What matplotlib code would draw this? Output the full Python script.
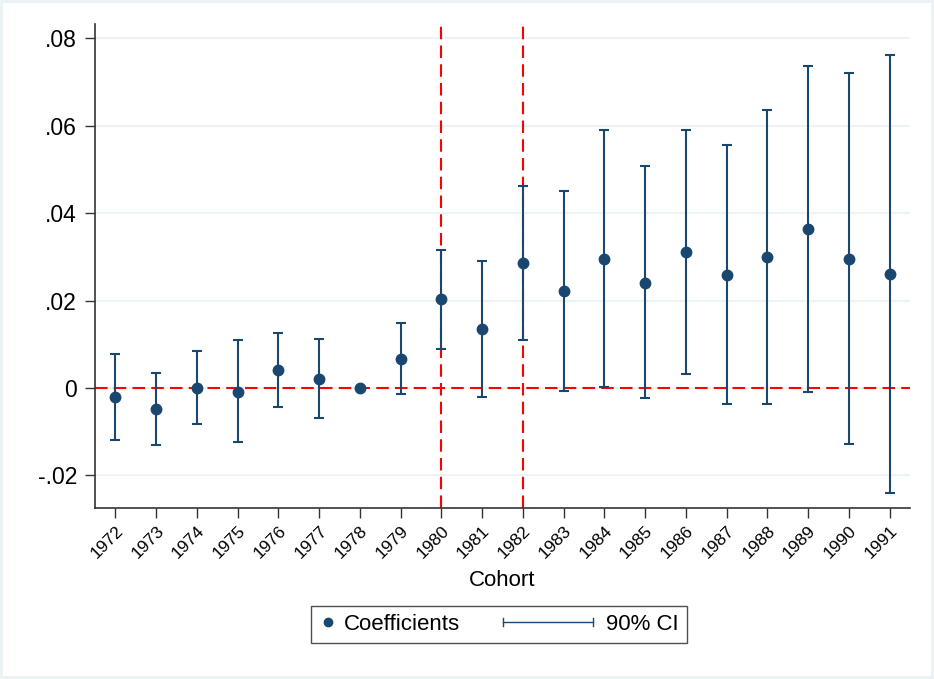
import numpy as np
import matplotlib
matplotlib.use('Agg')
import matplotlib.pyplot as plt
from matplotlib.lines import Line2D
from matplotlib.legend_handler import HandlerBase

plt.rcParams['font.family'] = ['Liberation Sans', 'DejaVu Sans']

# Data
cohorts = np.arange(1972, 1992)
coef = [-0.0021, -0.0048, 0.0000, -0.0009, 0.0040, 0.0021, 0.0000, 0.0067, 0.0203, 0.0134,
        0.0286, 0.0222, 0.0296, 0.0241, 0.0310, 0.0258, 0.0300, 0.0363, 0.0296, 0.0260]
ci_low = [-0.0120, -0.0131, -0.0083, -0.0125, -0.0044, -0.0069, np.nan, -0.0015, 0.0090, -0.0022,
          0.0109, -0.0007, 0.0002, -0.0024, 0.0031, -0.0038, -0.0036, -0.0009, -0.0129, -0.0241]
ci_high = [0.0077, 0.0035, 0.0084, 0.0109, 0.0125, 0.0112, np.nan, 0.0149, 0.0316, 0.0290,
           0.0462, 0.0451, 0.0591, 0.0507, 0.0591, 0.0556, 0.0636, 0.0736, 0.0721, 0.0761]
yticks = [-0.02, 0, 0.02, 0.04, 0.06, 0.08]
ytick_labels = ['-.02', '0', '.02', '.04', '.06', '.08']
vlines = [1980, 1982]

NAVY = '#1a476f'
GRID = '#eaf2f3'


class HandlerCI(HandlerBase):
    """Horizontal range bar with caps, as in the Stata legend."""
    def create_artists(self, legend, orig_handle, xdescent, ydescent,
                       width, height, fontsize, trans):
        y = height / 2 - ydescent
        x0, x1 = -57, width - 5
        cap = 3.0
        line = Line2D([x0, x1], [y, y], color=NAVY, lw=1.0, transform=trans)
        c0 = Line2D([x0, x0], [y - cap, y + cap], color=NAVY, lw=1.0, transform=trans)
        c1 = Line2D([x1, x1], [y - cap, y + cap], color=NAVY, lw=1.0, transform=trans)
        return [line, c0, c1]


def main():
    fig = plt.figure(figsize=(9.34, 6.79), dpi=100)
    fig.patch.set_facecolor('white')
    fig.patch.set_edgecolor(GRID)
    fig.patch.set_linewidth(4)

    ax = fig.add_axes([95 / 934, 1 - 508 / 679, 815 / 934, 484 / 679])
    ax.set_facecolor('white')

    c = np.array(coef)
    lo = np.array(ci_low)
    hi = np.array(ci_high)
    m = ~np.isnan(lo)
    ax.errorbar(cohorts[m], c[m], yerr=[c[m] - lo[m], hi[m] - c[m]], fmt='none',
                ecolor=NAVY, elinewidth=1.5, capsize=3.8, capthick=1.5, zorder=3)
    ax.plot(cohorts, c, 'o', color=NAVY, markersize=7.5, zorder=4)

    ax.axhline(0, color='#ff0000', lw=1.5, dashes=(6, 3), zorder=2)
    for v in vlines:
        ax.axvline(v, color='#ff0000', lw=1.5, dashes=(6, 3), zorder=2)

    ax.set_xlim(1971.5, 1991.5)
    ax.set_ylim(-0.0275, 0.0833)
    ax.set_yticks(yticks)
    ax.set_yticklabels(ytick_labels, fontsize=16.5)
    ax.set_xticks(cohorts)
    ax.set_xticklabels([str(y) for y in cohorts], fontsize=12.5, rotation=45,
                       ha='right', va='top', rotation_mode='anchor')
    ax.yaxis.grid(True, color=GRID, lw=1.3, zorder=0)
    ax.set_axisbelow(True)

    for s in ['top', 'right']:
        ax.spines[s].set_visible(False)
    for s in ['left', 'bottom']:
        ax.spines[s].set_color('#333333')
        ax.spines[s].set_linewidth(1.2)
    ax.tick_params(axis='both', length=7, width=1.0, color='#333333', pad=4)
    ax.tick_params(axis='y', pad=6)

    ax.set_xlabel('Cohort', fontsize=16, labelpad=6)

    h_coef = Line2D([], [], marker='o', color=NAVY, linestyle='none', markersize=6)
    h_ci = Line2D([], [], color=NAVY)
    leg = fig.legend([h_coef, h_ci], ['Coefficients', '90% CI'],
                     handler_map={h_ci: HandlerCI()},
                     loc='center', bbox_to_anchor=(499 / 934, 1 - 624.5 / 679),
                     ncol=2, fontsize=16, frameon=True, fancybox=False,
                     edgecolor='#222222', handlelength=0.8, handletextpad=0.3,
                     columnspacing=5.5, borderpad=0.35)
    leg.get_frame().set_linewidth(1.0)

    fig.savefig('out.png', dpi=100, facecolor='white', edgecolor=GRID)
    plt.close(fig)


if __name__ == '__main__':
    main()
